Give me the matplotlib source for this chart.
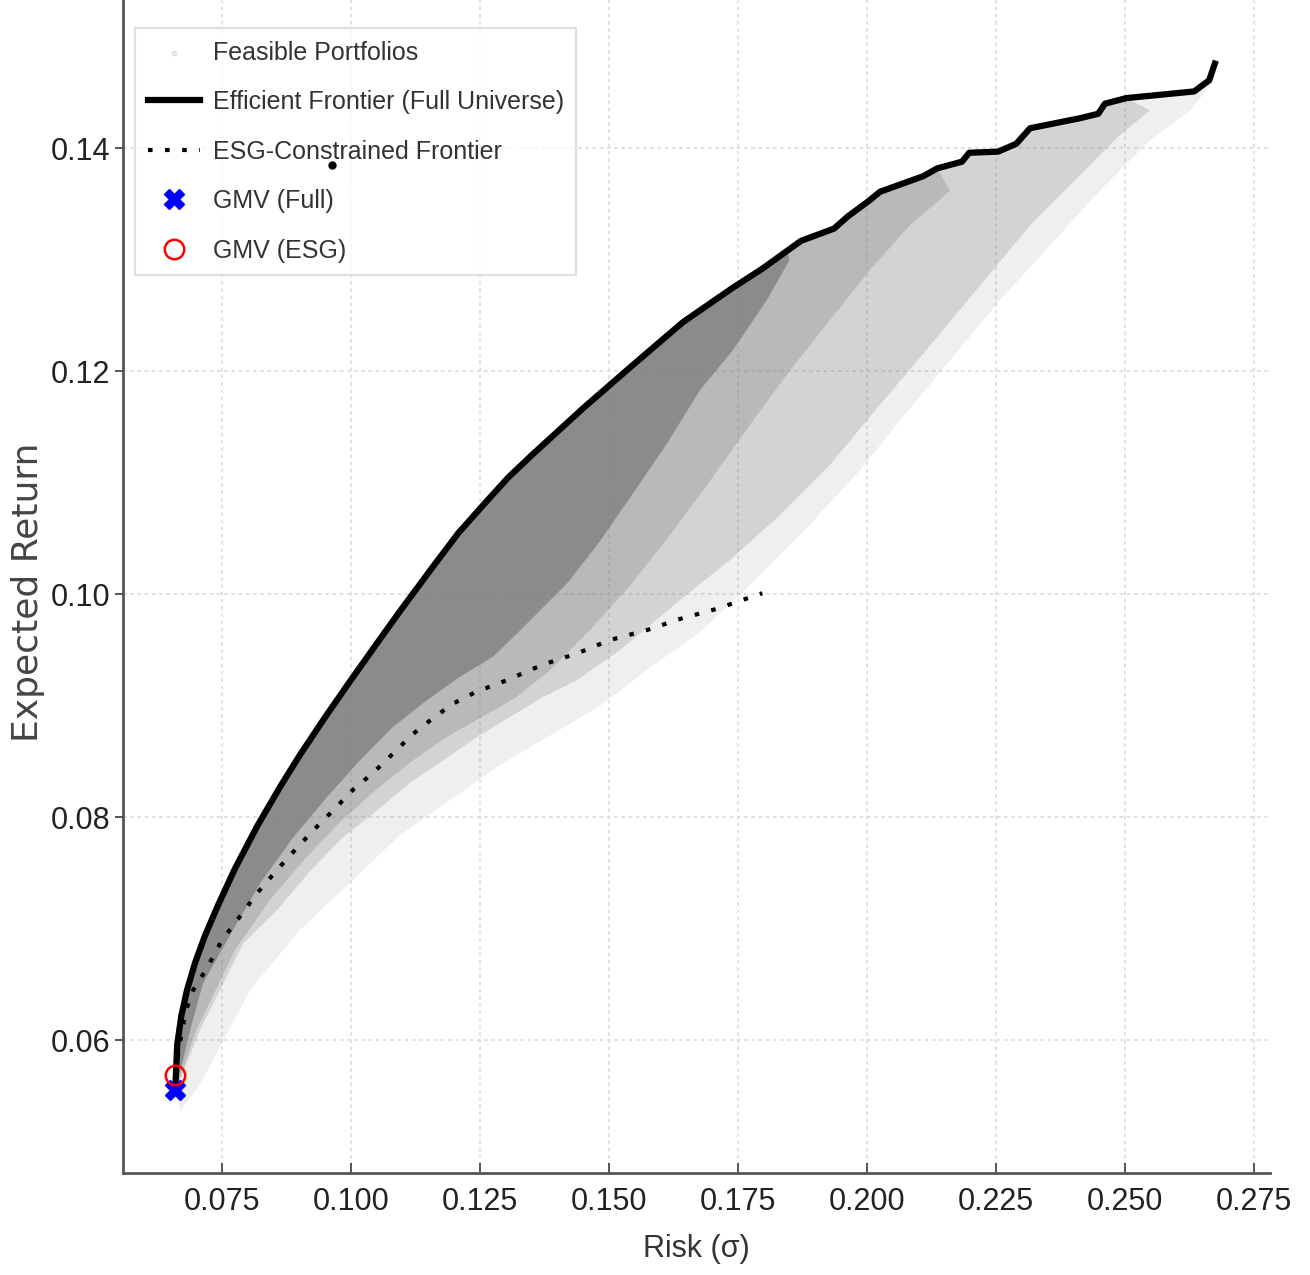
import numpy as np
import matplotlib
matplotlib.use('Agg')
import matplotlib.pyplot as plt

# Efficient frontier (full universe): risk, expected return
ef_risk = [0.0659, 0.0663, 0.0671, 0.0682, 0.0698, 0.0717, 0.0742, 0.0775, 0.0818, 0.0862,
           0.0901, 0.0950, 0.0998, 0.1047, 0.1095, 0.1159, 0.1208, 0.1256, 0.1305, 0.1353,
           0.1450, 0.1547, 0.1643, 0.1740, 0.1797, 0.1845, 0.1872, 0.1936, 0.1963, 0.2004,
           0.2025, 0.2109, 0.2136, 0.2184, 0.2198, 0.2254, 0.2289, 0.2316, 0.2413, 0.2448,
           0.2461, 0.2502, 0.2634, 0.2663, 0.2674]
ef_ret = [0.0553, 0.0596, 0.0622, 0.0645, 0.0670, 0.0694, 0.0721, 0.0754, 0.0792, 0.0827,
          0.0856, 0.0890, 0.0922, 0.0954, 0.0985, 0.1025, 0.1055, 0.1080, 0.1105, 0.1126,
          0.1167, 0.1206, 0.1244, 0.1275, 0.1292, 0.1308, 0.1317, 0.1328, 0.1339, 0.1353,
          0.1361, 0.1375, 0.1382, 0.1388, 0.1396, 0.1397, 0.1404, 0.1418, 0.1427, 0.1431,
          0.1440, 0.1445, 0.1451, 0.1461, 0.1476]

# ESG-constrained frontier
esg_risk = [0.0659, 0.0669, 0.0680, 0.0694, 0.0721, 0.0750, 0.0783, 0.0818, 0.0853, 0.0888,
            0.0926, 0.0965, 0.1002, 0.1043, 0.1081, 0.1118, 0.1159, 0.1198, 0.1240, 0.1302,
            0.1372, 0.1438, 0.1502, 0.1574, 0.1638, 0.1709, 0.1797]
esg_ret = [0.0569, 0.0600, 0.0627, 0.0645, 0.0665, 0.0690, 0.0710, 0.0732, 0.0751, 0.0769,
           0.0788, 0.0806, 0.0824, 0.0840, 0.0857, 0.0874, 0.0889, 0.0902, 0.0912, 0.0923,
           0.0937, 0.0947, 0.0959, 0.0968, 0.0978, 0.0987, 0.1001]

# feasible portfolio cloud: lower edges of the dense ... sparse parts
core_risk = [0.0661, 0.0688, 0.0713, 0.0760, 0.0824, 0.0888, 0.0953, 0.1017, 0.1081, 0.1147,
             0.1211, 0.1275, 0.1322, 0.1419, 0.1483, 0.1547, 0.1612, 0.1676, 0.1740, 0.1806,
             0.1850]
core_ret = [0.0557, 0.0609, 0.0651, 0.0690, 0.0741, 0.0782, 0.0818, 0.0851, 0.0881, 0.0905,
            0.0926, 0.0944, 0.0965, 0.1010, 0.1048, 0.1091, 0.1135, 0.1183, 0.1219, 0.1264,
            0.1300]
inner_risk = [0.0663, 0.0700, 0.0775, 0.0843, 0.0911, 0.0979, 0.1047, 0.1114, 0.1182, 0.1250,
              0.1318, 0.1386, 0.1463, 0.1541, 0.1618, 0.1696, 0.1773, 0.1851, 0.1928, 0.2006,
              0.2083, 0.2161]
inner_ret = [0.0559, 0.0609, 0.0681, 0.0726, 0.0763, 0.0796, 0.0824, 0.0849, 0.0871, 0.0889,
             0.0907, 0.0932, 0.0968, 0.1008, 0.1053, 0.1102, 0.1152, 0.1201, 0.1246, 0.1291,
             0.1331, 0.1362]
mid_risk = [0.0665, 0.0707, 0.0791, 0.0857, 0.0921, 0.0984, 0.1050, 0.1114, 0.1178, 0.1244,
            0.1308, 0.1372, 0.1438, 0.1521, 0.1638, 0.1735, 0.1831, 0.1928, 0.2025, 0.2122,
            0.2219, 0.2316, 0.2413, 0.2490, 0.2548]
mid_ret = [0.0560, 0.0609, 0.0687, 0.0717, 0.0752, 0.0782, 0.0806, 0.0831, 0.0851, 0.0872,
           0.0890, 0.0908, 0.0923, 0.0950, 0.0995, 0.1031, 0.1071, 0.1116, 0.1170, 0.1223,
           0.1277, 0.1331, 0.1376, 0.1412, 0.1434]
outer_risk = [0.0669, 0.0707, 0.0804, 0.0901, 0.1095, 0.1289, 0.1483, 0.1579, 0.1676, 0.1773,
              0.1870, 0.1986, 0.2064, 0.2161, 0.2258, 0.2355, 0.2451, 0.2548, 0.2626, 0.2674]
outer_ret = [0.0537, 0.0560, 0.0645, 0.0699, 0.0784, 0.0847, 0.0900, 0.0934, 0.0966, 0.1008,
             0.1053, 0.1111, 0.1156, 0.1210, 0.1264, 0.1313, 0.1362, 0.1407, 0.1434, 0.1461]

gmv_full = (0.0659, 0.0555)
gmv_esg = (0.0659, 0.0569)
stray_pt = (0.0963, 0.1385)

x_ticks = [0.075, 0.100, 0.125, 0.150, 0.175, 0.200, 0.225, 0.250, 0.275]
y_ticks = [0.06, 0.08, 0.10, 0.12, 0.14]

TXT = ['Liberation Sans', 'DejaVu Sans']

fig = plt.figure(figsize=(13.1, 12.75), dpi=100)
ax = fig.add_axes([0.0939, 0.08, 0.8756, 0.92])

ef_risk = np.array(ef_risk)
ef_ret = np.array(ef_ret)

# cloud layers, drawn as polygons between the frontier and each lower edge
layers = [(outer_risk, outer_ret, 0.12), (mid_risk, mid_ret, 0.25),
          (inner_risk, inner_ret, 0.30), (core_risk, core_ret, 0.80)]
for lo_x, lo_y, a in layers:
    m = ef_risk <= lo_x[-1] + 0.001
    px = np.concatenate([ef_risk[m], lo_x[::-1]])
    py = np.concatenate([ef_ret[m], lo_y[::-1]])
    ax.fill(px, py, color='#808080', alpha=a, lw=0, zorder=1)

ax.scatter([], [], s=12, color='#808080', alpha=0.15, label='Feasible Portfolios')
ax.plot(ef_risk, ef_ret, color='black', lw=4.5, zorder=3, label='Efficient Frontier (Full Universe)')
ax.plot(esg_risk, esg_ret, color='black', lw=3, dashes=(1.1, 3.0), zorder=3,
        label='ESG-Constrained Frontier')
ax.plot(*gmv_full, marker='X', ls='none', color='blue', ms=14, zorder=4, label='GMV (Full)')
ax.plot(*gmv_esg, marker='o', ls='none', mfc='none', mec='red', mew=1.8, ms=14, zorder=4,
        label='GMV (ESG)')
ax.plot(*stray_pt, marker='o', ls='none', color='black', ms=5, zorder=6)

ax.set_xlim(0.0558, 0.2781)
ax.set_ylim(0.0481, 0.1533)
ax.set_xticks(x_ticks)
ax.set_yticks(y_ticks)
ax.set_xticklabels([f'{v:.3f}' for v in x_ticks], family=TXT, fontsize=22, color='#222222')
ax.set_yticklabels([f'{v:.2f}' for v in y_ticks], family=TXT, fontsize=22, color='#222222')
ax.tick_params(axis='x', direction='in', length=7, width=1.4, color='#555555', pad=10)
ax.tick_params(axis='y', direction='out', length=6, width=1.4, color='#555555', pad=3)

ax.grid(True, color='#dedede', ls=(0, (2, 2)), lw=1.3)
ax.set_axisbelow(True)
for s in ['top', 'right']:
    ax.spines[s].set_visible(False)
for s in ['left', 'bottom']:
    ax.spines[s].set_color('#555555')
    ax.spines[s].set_linewidth(2)

ax.set_xlabel('Risk (σ)', family=TXT, fontsize=22, color='#333333')
ax.xaxis.set_label_coords(0.5, -0.052)
ax.set_ylabel('Expected Return', family='DejaVu Sans', fontsize=26, color='#444444')
ax.yaxis.set_label_coords(-0.068, 0.495)

leg = ax.legend(loc='upper left', bbox_to_anchor=(0.0105, 0.976), borderaxespad=0,
                prop={'family': TXT, 'size': 18}, labelspacing=1.02, handlelength=2.1,
                handletextpad=0.5, borderpad=0.5, frameon=True, fancybox=False)
leg.get_frame().set_edgecolor('#d8d8d8')
leg.get_frame().set_linewidth(1.5)
for t in leg.get_texts():
    t.set_color('#333333')

fig.savefig('out.png', dpi=100)
